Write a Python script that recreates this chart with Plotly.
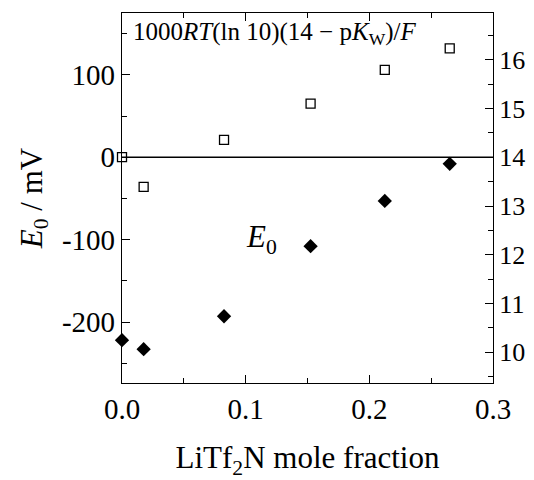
import plotly.graph_objects as go

# Data
x_frac = [0.0, 0.0175, 0.0825, 0.1525, 0.2125, 0.265]
e0_mv = [-222, -233, -193, -108, -53, -8]
pkw_term_mv = [0, -36, 21, 65, 106, 132]

left_tickvals = [-200, -100, 0, 100]
left_ticktext = ["-200", "-100", "0", "100"]
x_tickvals = [0.0, 0.1, 0.2, 0.3]
x_ticktext = ["0.0", "0.1", "0.2", "0.3"]
right_tickvals = [10, 11, 12, 13, 14, 15, 16]

FONT = "Liberation Serif"

fig = go.Figure()
fig.add_trace(go.Scatter(
    x=x_frac, y=pkw_term_mv, mode="markers", cliponaxis=False,
    marker=dict(symbol="square-open", size=9, color="black", line=dict(width=1.3)),
    showlegend=False))
fig.add_trace(go.Scatter(
    x=x_frac, y=e0_mv, mode="markers", cliponaxis=False,
    marker=dict(symbol="diamond", size=11, color="black"),
    showlegend=False))
fig.add_trace(go.Scatter(x=[None], y=[None], yaxis="y2", showlegend=False, hoverinfo="skip"))

fig.add_shape(type="line", xref="paper", x0=0, x1=1, yref="y", y0=0, y1=0,
              line=dict(color="black", width=1.5))

fig.add_annotation(xref="paper", yref="paper", x=0.025, y=0.945, xanchor="left", yanchor="middle",
                   text="1000<i>RT</i>(ln 10)(14 − p<i>K</i><sub>W</sub>)/<i>F</i>",
                   showarrow=False, font=dict(family=FONT, size=25, color="black"))
fig.add_annotation(xref="paper", yref="paper", x=0.33, y=0.39, xanchor="left", yanchor="middle",
                   text="<i>E</i><sub>0</sub>",
                   showarrow=False, font=dict(family=FONT, size=31, color="black"))

axis_common = dict(showline=True, linecolor="black", linewidth=1.3, showgrid=False, zeroline=False,
                   ticks="inside", tickcolor="black", tickwidth=1.2, automargin=False)

# The page body has an 8px default margin, so the figure is sized 8px smaller
fig.update_layout(
    width=526, height=472,
    margin=dict(l=114, r=41, t=5, b=97),
    paper_bgcolor="white", plot_bgcolor="white",
    font=dict(family=FONT, color="black"),
    xaxis=dict(range=[0, 0.3], tickvals=x_tickvals, ticktext=x_ticktext, ticklen=8,
               mirror="ticks", tickfont=dict(size=29),
               minor=dict(ticks="inside", ticklen=5, dtick=0.05, tick0=0, tickcolor="black", tickwidth=1.2),
               title=dict(text="LiTf<sub>2</sub>N mole fraction", font=dict(size=31), standoff=22),
               **axis_common),
    yaxis=dict(range=[-274, 175], tickvals=left_tickvals, ticktext=left_ticktext, ticklen=8,
               tickfont=dict(size=29),
               minor=dict(ticks="inside", ticklen=5, dtick=50, tick0=0, tickcolor="black", tickwidth=1.2),
               title=dict(text="<i>E</i><sub>0</sub> / mV", font=dict(size=31), standoff=10),
               **axis_common),
    yaxis2=dict(range=[9.37, 16.96], overlaying="y", side="right", tickvals=right_tickvals, ticklen=8,
                tickfont=dict(size=26),
                minor=dict(ticks="inside", ticklen=5, dtick=0.5, tick0=0, tickcolor="black", tickwidth=1.2),
                **axis_common),
)

fig.write_html("out.html")
